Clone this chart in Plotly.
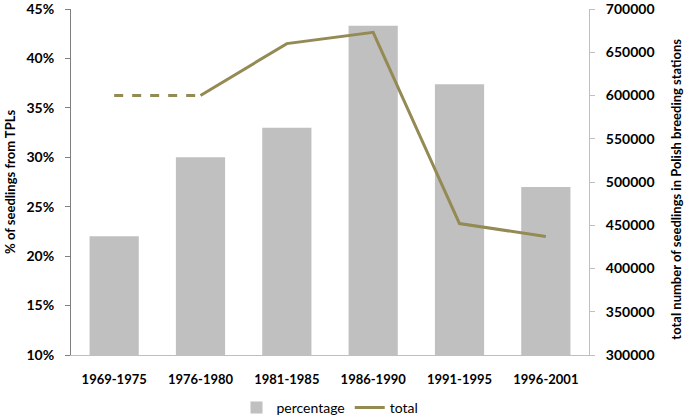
import plotly.graph_objects as go

categories = ["1969-1975", "1976-1980", "1981-1985", "1986-1990", "1991-1995", "1996-2001"]
percentage = [0.22, 0.30, 0.33, 0.433, 0.374, 0.27]
total = [600000, 600000, 660000, 673000, 452000, 437000]
left_ticks = [0.10, 0.15, 0.20, 0.25, 0.30, 0.35, 0.40, 0.45]
right_ticks = [300000, 350000, 400000, 450000, 500000, 550000, 600000, 650000, 700000]
left_title = "% of seedlings from TPLs"
right_title = "total number of seedlings in Polish breeding stations"

LINE = "#948A54"
BAR = "#C0C0C0"
FONT = "Lato"

fig = go.Figure()
fig.add_trace(go.Bar(x=categories, y=percentage, name="percentage",
                     marker=dict(color=BAR, line=dict(width=0)), yaxis="y"))
# dashed estimated segment
fig.add_trace(go.Scatter(x=categories[:2], y=total[:2], mode="lines", yaxis="y2",
                         line=dict(color=LINE, width=3, dash="dash"), showlegend=False))
fig.add_trace(go.Scatter(x=categories[1:], y=total[1:], mode="lines", yaxis="y2", name="total",
                         line=dict(color=LINE, width=3)))

ytickfont = dict(family=FONT, size=14, color="#000", weight="bold")
xtickfont = dict(family=FONT, size=13, color="#000", weight="bold")
titlefont = dict(family=FONT, size=13, color="#000", weight="bold")

fig.update_layout(
    width=685, height=418,
    margin=dict(l=71, r=96, t=9, b=63, autoexpand=False),
    plot_bgcolor="white", paper_bgcolor="white",
    bargap=0.43,
    font=dict(family=FONT, color="#000000"),
    showlegend=True,
    legend=dict(orientation="h", x=0.5, xanchor="center", y=-0.153, yanchor="middle",
                font=dict(family=FONT, size=14), traceorder="normal"),
    xaxis=dict(showline=True, linecolor="#BFBFBF", linewidth=1, ticks="", showgrid=False,
               automargin=False, tickfont=xtickfont, ticklabelstandoff=12),
    yaxis=dict(range=[0.10, 0.45], tickvals=left_ticks, tickformat=".0%",
               showline=True, linecolor="#808080", linewidth=1, ticks="outside",
               ticklen=5, tickcolor="#808080", showgrid=False, zeroline=False,
               automargin=False, ticklabeloverflow="allow", tickfont=ytickfont,
               ticklabelstandoff=8),
    yaxis2=dict(range=[300000, 700000], tickvals=right_ticks, overlaying="y", side="right",
                showline=True, linecolor="#BFBFBF", linewidth=1, ticks="outside",
                ticklen=5, tickcolor="#BFBFBF", showgrid=False, zeroline=False,
                tickformat="d", automargin=False, ticklabeloverflow="allow",
                tickfont=ytickfont, ticklabelstandoff=8),
    annotations=[
        dict(text=left_title, xref="paper", yref="paper", x=-0.118, y=0.5,
             textangle=-90, showarrow=False, font=titlefont, xanchor="center", yanchor="middle"),
        dict(text=right_title, xref="paper", yref="paper", x=1.168, y=0.478,
             textangle=-90, showarrow=False, font=titlefont, xanchor="center", yanchor="middle"),
    ],
)

fig.write_html("out.html", config={"displayModeBar": False},
               post_script="document.body.style.margin='0';document.body.style.overflow='hidden';")
